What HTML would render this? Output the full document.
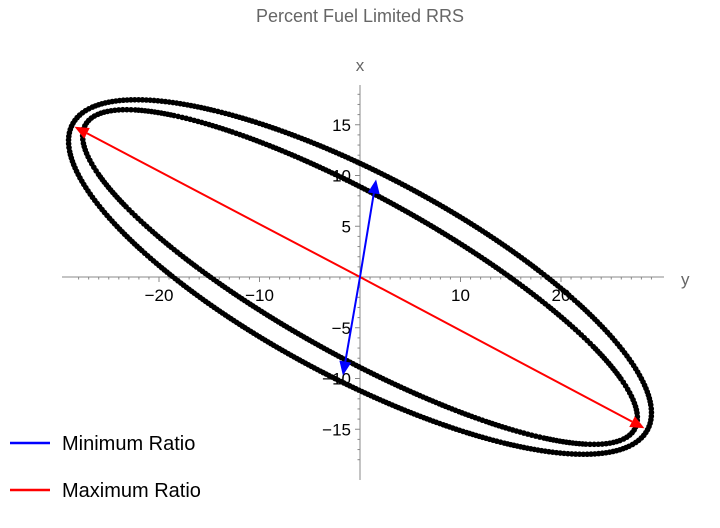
<!DOCTYPE html>
<html><head><meta charset="utf-8"><style>
body{margin:0;background:#fff;}
svg{display:block;font-family:"Liberation Sans",sans-serif;}
</style></head><body>
<svg id="chart" width="720" height="528">
<text x="360" y="22" text-anchor="middle" font-size="18" fill="#666">Percent Fuel Limited RRS</text>
<g id="axes"></g>
<g id="marks"></g>
<g>
<line x1="10" y1="443" x2="50" y2="443" stroke="#0000ff" stroke-width="2.5"/>
<text x="62" y="450" font-size="20" fill="#000">Minimum Ratio</text>
<line x1="10" y1="490" x2="50" y2="490" stroke="#ff0000" stroke-width="2.5"/>
<text x="62" y="497" font-size="20" fill="#000">Maximum Ratio</text>
</g>
</svg>
<script>
// data
const xTicks = [-20, -10, 10, 20];
const yTicks = [-15, -10, -5, 5, 10, 15];
// ellipse descriptions: [inner, outer]
const ellipseXIntercept = [14.9, 18.6];
const ellipseYIntercept = [8.9, 11.2];
const ellipseXExtent = [27.6, 29.0];
const maxArrowEnds = [[-28.4, 14.8], [28.3, -14.9]];
const minArrowEnds = [[1.6, 9.6], [-1.7, -9.7]];

const X0 = 360, Y0 = 277, SX = 10.05, SY = 10.15;
const sx = v => X0 + v * SX;
const sy = v => Y0 - v * SY;
const NS = "http://www.w3.org/2000/svg";
const axes = document.getElementById('axes');
const marks = document.getElementById('marks');
function mk(tag, attrs, parent){const e=document.createElementNS(NS,tag);for(const k in attrs)e.setAttribute(k,attrs[k]);parent.appendChild(e);return e;}

let e = mk('line',{x1:62,y1:Y0,x2:664,y2:Y0,stroke:'#888','stroke-width':1},axes);


e = mk('line',{x1:X0,y1:85,x2:X0,y2:480,stroke:'#888','stroke-width':1},axes);


e = mk('text',{x:681,y:285,'font-size':17,fill:'#666'},axes); e.textContent='y';


e = mk('text',{x:360,y:71,'font-size':17,fill:'#666','text-anchor':'middle'},axes); e.textContent='x';


for (let v=-28; v<=29; v++){ if(v===0) continue;
  const big = v%10===0;
  mk('line',{x1:sx(v),y1:Y0,x2:sx(v),y2:Y0+(big?5:2.5),stroke:'#888'},axes);
}
for (let v=-18; v<=18; v++){ if(v===0) continue;
  const big = v%5===0;
  mk('line',{x1:X0,y1:sy(v),x2:X0-(big?5:2.5),y2:sy(v),stroke:'#888'},axes);
}
xTicks.forEach(v=>{const t=mk('text',{x:sx(v),y:Y0+24,'font-size':17,'text-anchor':'middle',fill:'#000'},axes);t.textContent=(v<0?'\u2212'+(-v):v);
  
  });
yTicks.forEach(v=>{const t=mk('text',{x:X0-9,y:sy(v)+6,'font-size':17,'text-anchor':'end',fill:'#000'},axes);t.textContent=(v<0?'\u2212'+(-v):v);
  
  });

for (let k=0;k<ellipseXIntercept.length;k++){
  const g = mk('g',{},marks);
  
  
  const A=1/(ellipseXIntercept[k]**2), C=1/(ellipseYIntercept[k]**2);
  const det=C/(ellipseXExtent[k]**2);
  const B=Math.sqrt(Math.max(A*C-det,0));
  const pts=[]; const M=3000;
  for(let i=0;i<=M;i++){const t=2*Math.PI*i/M, c=Math.cos(t), s=Math.sin(t);
    const r=1/Math.sqrt(A*c*c+2*B*c*s+C*s*s);
    pts.push([sx(r*c), sy(r*s)]);}
  let acc=0, step=3.2;
  mk('circle',{cx:pts[0][0],cy:pts[0][1],r:2.8,fill:'#000'},g);
  for(let i=1;i<pts.length;i++){
    acc+=Math.hypot(pts[i][0]-pts[i-1][0],pts[i][1]-pts[i-1][1]);
    if(acc>=step){acc=0;mk('circle',{cx:pts[i][0],cy:pts[i][1],r:2.8,fill:'#000'},g);}
  }
}
function arrow(end,color,name){
  const g=mk('g',{},marks);
  
  
  const x1=sx(0),y1=sy(0),x2=sx(end[0]),y2=sy(end[1]);
  const ang=Math.atan2(y2-y1,x2-x1),hl=14,hw=6;
  const bx=x2-hl*Math.cos(ang),by=y2-hl*Math.sin(ang);
  mk('line',{x1,y1,x2:bx,y2:by,stroke:color,'stroke-width':2},g);
  const p=[[x2,y2],[bx+hw*Math.sin(ang),by-hw*Math.cos(ang)],[bx-hw*Math.sin(ang),by+hw*Math.cos(ang)]];
  mk('polygon',{points:p.map(q=>q.join(',')).join(' '),fill:color},g);
}
maxArrowEnds.forEach((p,i)=>arrow(p,'#ff0000','max-ratio-arrow-'+i));
minArrowEnds.forEach((p,i)=>arrow(p,'#0000ff','min-ratio-arrow-'+i));
</script>
</body></html>
